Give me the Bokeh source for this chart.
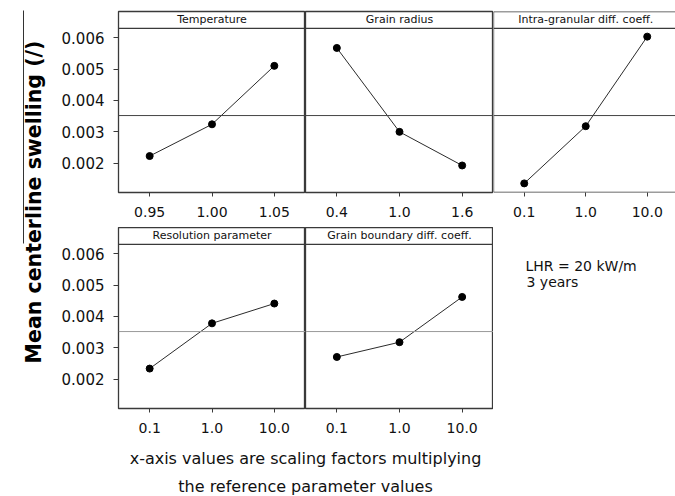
import numpy as np
from bokeh.plotting import figure
from bokeh.layouts import row, column
from bokeh.models import Range1d, Span, Label, FixedTicker, PrintfTickFormatter
from bokeh.embed import file_html
from bokeh.resources import INLINE

# Factor levels (scaling factors applied to each reference parameter)
levels_temperature = ["0.95", "1.00", "1.05"]
levels_grain_radius = ["0.4", "1.0", "1.6"]
levels_diffusion = ["0.1", "1.0", "10.0"]

# Mean centerline swelling at each level
swelling_temperature = [0.00223, 0.00324, 0.00510]
swelling_grain_radius = [0.00567, 0.00300, 0.00193]
swelling_intragranular = [0.00136, 0.00318, 0.00603]
swelling_resolution = [0.00234, 0.00378, 0.00441]
swelling_grain_boundary = [0.00271, 0.00318, 0.00462]

panel_titles = [
    "Temperature",
    "Grain radius",
    "Intra-granular diff. coeff.",
    "Resolution parameter",
    "Grain boundary diff. coeff.",
]

y_ticks = [0.002, 0.003, 0.004, 0.005, 0.006]

# vertical extent: plotting area up to Y_TOP, title strip from Y_TOP to Y_STRIP
Y_MIN, Y_TOP, Y_STRIP = 0.00107, 0.00629, 0.00683

grand_mean = float(np.mean(
    swelling_temperature + swelling_grain_radius + swelling_intragranular
    + swelling_resolution + swelling_grain_boundary
))

FONT = "DejaVu Sans"
BORDER = "#3a3a3a"


def panel(title, labels, values, width, height, border_left, border_top,
          mean_color, y_axis=False, x_end=3.5, closed=True):
    p = figure(
        width=width, height=height,
        x_range=Range1d(0.5, x_end), y_range=Range1d(Y_MIN, Y_STRIP),
        output_backend="svg", toolbar_location=None, tools="",
        min_border_left=border_left, min_border_right=0,
        min_border_top=border_top, min_border_bottom=35,
        y_axis_location="left" if y_axis else None,
    )
    p.xgrid.visible = False
    p.ygrid.visible = False
    p.background_fill_color = "white"
    p.border_fill_color = "white"

    xs = [1, 2, 3]
    p.line(xs, values, line_color="#2b2b2b", line_width=1)
    p.scatter(xs, values, size=7, color="black")

    # x axis with factor levels as tick labels
    p.xaxis.ticker = FixedTicker(ticks=xs)
    p.xaxis.major_label_overrides = {x: lab for x, lab in zip(xs, labels)}
    p.xaxis.axis_line_color = None
    p.xaxis.major_tick_out = 4
    p.xaxis.major_tick_in = 0
    p.xaxis.major_tick_line_color = BORDER
    p.xaxis.minor_tick_line_color = None
    p.xaxis.major_label_standoff = 10
    p.xaxis.major_label_text_font = FONT
    p.xaxis.major_label_text_font_size = "14px"
    p.xaxis.major_label_text_color = "#111111"

    if y_axis:
        p.yaxis.ticker = FixedTicker(ticks=y_ticks)
        p.yaxis.formatter = PrintfTickFormatter(format="%.3f")
        p.yaxis.axis_line_color = None
        p.yaxis.major_tick_out = 5
        p.yaxis.major_tick_in = 0
        p.yaxis.major_tick_line_color = BORDER
        p.yaxis.minor_tick_line_color = None
        p.yaxis.major_label_standoff = 9
        p.yaxis.major_label_text_font = FONT
        p.yaxis.major_label_text_font_size = "15px"
        p.yaxis.major_label_text_color = "#111111"

    if closed:
        p.outline_line_color = BORDER
        p.outline_line_width = 1.3
    else:
        # open on the right side
        p.outline_line_color = None
        for loc in (Y_MIN, Y_STRIP):
            p.add_layout(Span(location=loc, dimension="width",
                              line_color=BORDER, line_width=1.3))
        p.add_layout(Span(location=0.5, dimension="height",
                          line_color=BORDER, line_width=1.3))

    # grand mean reference line
    p.add_layout(Span(location=grand_mean, dimension="width",
                      line_color=mean_color, line_width=1))
    # title strip
    p.add_layout(Span(location=Y_TOP, dimension="width",
                      line_color=BORDER, line_width=1.3))
    p.add_layout(Label(x=2.0, y=(Y_TOP + Y_STRIP) / 2, text=title,
                       text_align="center", text_baseline="middle",
                       text_font=FONT, text_font_size="11px",
                       text_color="#111111"))
    return p


def blank(width, height):
    p = figure(width=width, height=height,
               x_range=Range1d(0, width), y_range=Range1d(0, height),
               output_backend="svg", toolbar_location=None, tools="",
               min_border=0, x_axis_location=None, y_axis_location=None)
    p.xgrid.visible = False
    p.ygrid.visible = False
    p.outline_line_color = None
    p.background_fill_color = "white"
    p.border_fill_color = "white"
    return p


TOP_H, BOT_H, CAP_H = 227, 216, 53

p1 = panel(panel_titles[0], levels_temperature, swelling_temperature,
           257, TOP_H, 70, 11, "#444444", y_axis=True)
p2 = panel(panel_titles[1], levels_grain_radius, swelling_grain_radius,
           188, TOP_H, 0, 11, "#444444")
p3 = panel(panel_titles[2], levels_diffusion, swelling_intragranular,
           182, TOP_H, 0, 11, "#444444", x_end=3.46, closed=False)

p4 = panel(panel_titles[3], levels_diffusion, swelling_resolution,
           257, BOT_H, 70, 0, "#9a9a9a", y_axis=True)
p5 = panel(panel_titles[4], levels_diffusion, swelling_grain_boundary,
           188, BOT_H, 0, 0, "#9a9a9a")

# operating conditions note
note = blank(182, BOT_H)
note.add_layout(Label(x=32, y=BOT_H - 45.5, text="LHR = 20 kW/m",
                      text_align="left", text_baseline="middle",
                      text_font=FONT, text_font_size="14px", text_color="#111111"))
note.add_layout(Label(x=33, y=BOT_H - 65.5, text="3 years",
                      text_align="left", text_baseline="middle",
                      text_font=FONT, text_font_size="14px", text_color="#111111"))

# shared y-axis title, with the bar over "centerline swelling (/)"
ylab = blank(48, 496)
ylab.add_layout(Label(x=33, y=496 - 201.5, text="Mean centerline swelling (/)",
                      angle=np.pi / 2, text_align="center", text_baseline="middle",
                      text_font=FONT, text_font_size="20.5px", text_font_style="bold",
                      text_color="black"))
ylab.segment(x0=[23], y0=[496 - 10], x1=[23], y1=[496 - 243],
             line_color="#333333", line_width=1)

# caption under the lower panels
caption = blank(627, CAP_H)
caption.add_layout(Label(x=257, y=CAP_H - 15,
                         text="x-axis values are scaling factors multiplying",
                         text_align="center", text_baseline="middle",
                         text_font=FONT, text_font_size="16px", text_color="#111111"))
caption.add_layout(Label(x=257, y=CAP_H - 43,
                         text="the reference parameter values",
                         text_align="center", text_baseline="middle",
                         text_font=FONT, text_font_size="16px", text_color="#111111"))

layout = row(ylab, column(row(p1, p2, p3), row(p4, p5, note), caption))

open("out.html", "w").write(file_html(layout, INLINE))
